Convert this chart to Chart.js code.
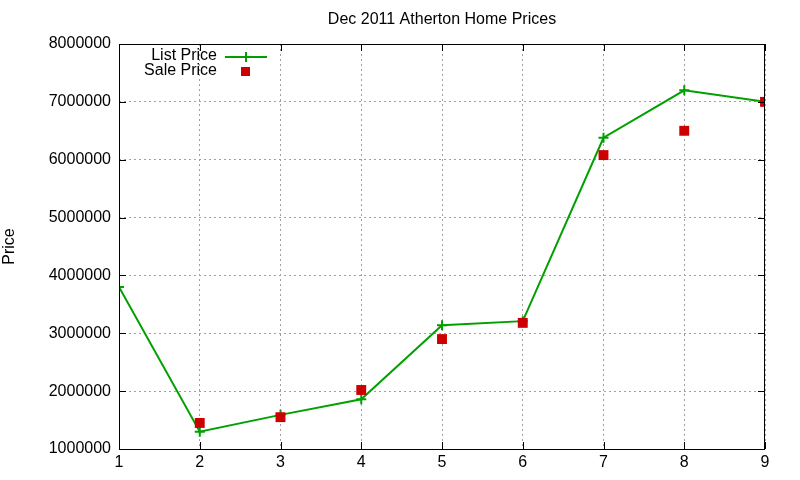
<!DOCTYPE html>
<html>
<head>
<meta charset="utf-8">
<script src="https://cdn.jsdelivr.net/npm/chart.js@4/dist/chart.umd.min.js"></script>
<style>
html,body{margin:0;padding:0;background:#fff;}
#wrap{width:800px;height:480px;}
</style>
</head>
<body>
<div id="wrap"><canvas id="c" width="800" height="480"></canvas></div>
<script>
const xValues = [1, 2, 3, 4, 5, 6, 7, 8, 9];
const listPrice = [3800000, 1300000, 1590000, 1860000, 3140000, 3210000, 6380000, 7200000, 7000000];
const saleValues = [null, 1450000, 1550000, 2020000, 2900000, 3180000, 6080000, 6500000, 7000000];
const seriesNames = ['List Price', 'Sale Price'];
const titleText = 'Dec 2011 Atherton Home Prices';
const yTitle = 'Price';

const GREEN = '#00a000';
const RED = '#cc0000';
const FONT = 'Liberation Sans, Arial, sans-serif';

const listData = xValues.map((x, i) => ({x: x, y: listPrice[i]}));
const saleData = xValues.map((x, i) => ({x: x, y: saleValues[i]})).filter(p => p.y !== null);

const extras = {
  id: 'extras',
  afterDatasetsDraw(chart) {
    const ctx = chart.ctx;
    const a = chart.chartArea;
    const xs = chart.scales.x, ys = chart.scales.y;
    ctx.save();
    // title centred over plot area
    ctx.font = '16px ' + FONT;
    ctx.fillStyle = '#000';
    ctx.textAlign = 'center';
    ctx.textBaseline = 'middle';
    ctx.fillText(titleText, (a.left + a.right) / 2, 20);
    // border
    ctx.strokeStyle = '#000';
    ctx.lineWidth = 1;
    ctx.strokeRect(a.left + 0.5, a.top + 0.5, a.right - a.left - 1, a.bottom - a.top);
    // inward ticks
    ctx.beginPath();
    xs.ticks.forEach(t => {
      const px = Math.round(xs.getPixelForValue(t.value)) + 0.5;
      ctx.moveTo(px, a.bottom); ctx.lineTo(px, a.bottom - 7);
      ctx.moveTo(px, a.top); ctx.lineTo(px, a.top + 7);
    });
    ys.ticks.forEach(t => {
      const py = Math.round(ys.getPixelForValue(t.value)) + 0.5;
      ctx.moveTo(a.left, py); ctx.lineTo(a.left + 7, py);
      ctx.moveTo(a.right, py); ctx.lineTo(a.right - 7, py);
    });
    ctx.stroke();
    // legend
    ctx.font = '16px ' + FONT;
    ctx.fillStyle = '#000';
    ctx.textAlign = 'right';
    ctx.textBaseline = 'middle';
    ctx.fillText(seriesNames[0], a.left + 98, a.top + 12);
    ctx.fillText(seriesNames[1], a.left + 98, a.top + 27);
    ctx.strokeStyle = GREEN;
    ctx.lineWidth = 2;
    ctx.beginPath();
    ctx.moveTo(a.left + 106, a.top + 13); ctx.lineTo(a.left + 148, a.top + 13);
    ctx.moveTo(a.left + 127, a.top + 8); ctx.lineTo(a.left + 127, a.top + 18);
    ctx.stroke();
    ctx.fillStyle = RED;
    ctx.fillRect(a.left + 122, a.top + 23, 9, 9);
    ctx.restore();
  }
};

new Chart(document.getElementById('c'), {
  type: 'scatter',
  data: {
    datasets: [
      {
        label: seriesNames[0],
        data: listData,
        showLine: true,
        borderColor: GREEN,
        backgroundColor: GREEN,
        borderWidth: 2,
        pointStyle: 'cross',
        pointRadius: 5,
        pointBorderWidth: 2,
        pointHoverRadius: 5,
        tension: 0,
        order: 2
      },
      {
        label: seriesNames[1],
        data: saleData,
        showLine: false,
        borderColor: RED,
        backgroundColor: RED,
        pointStyle: 'rect',
        pointRadius: 7,
        pointBorderWidth: 0,
        pointHoverRadius: 7,
        order: 1
      }
    ]
  },
  options: {
    responsive: false,
    animation: false,
    layout: {padding: {left: 0, right: 35, top: 44, bottom: 0}},
    plugins: {
      legend: {display: false},
      tooltip: {enabled: false},
      title: {display: false}
    },
    scales: {
      x: {
        type: 'linear',
        min: 1, max: 9,
        ticks: {stepSize: 1, color: '#000', font: {family: FONT, size: 16}, padding: 4, maxRotation: 0},
        grid: {color: '#a0a0a0', drawTicks: false, lineWidth: 1},
        border: {display: false, dash: [2, 3]},
        afterFit(s) { s.height = 31; }
      },
      y: {
        min: 1000000, max: 8000000,
        ticks: {stepSize: 1000000, color: '#000', font: {family: FONT, size: 16}, padding: 8,
          callback: v => String(v)},
        grid: {color: '#a0a0a0', drawTicks: false, lineWidth: 1},
        border: {display: false, dash: [2, 3]},
        title: {display: true, text: yTitle, color: '#000', font: {family: FONT, size: 16}, padding: {top: 0, bottom: 20}},
        afterFit(s) { s.width = 119; }
      }
    }
  },
  plugins: [extras]
});
</script>
</body>
</html>
